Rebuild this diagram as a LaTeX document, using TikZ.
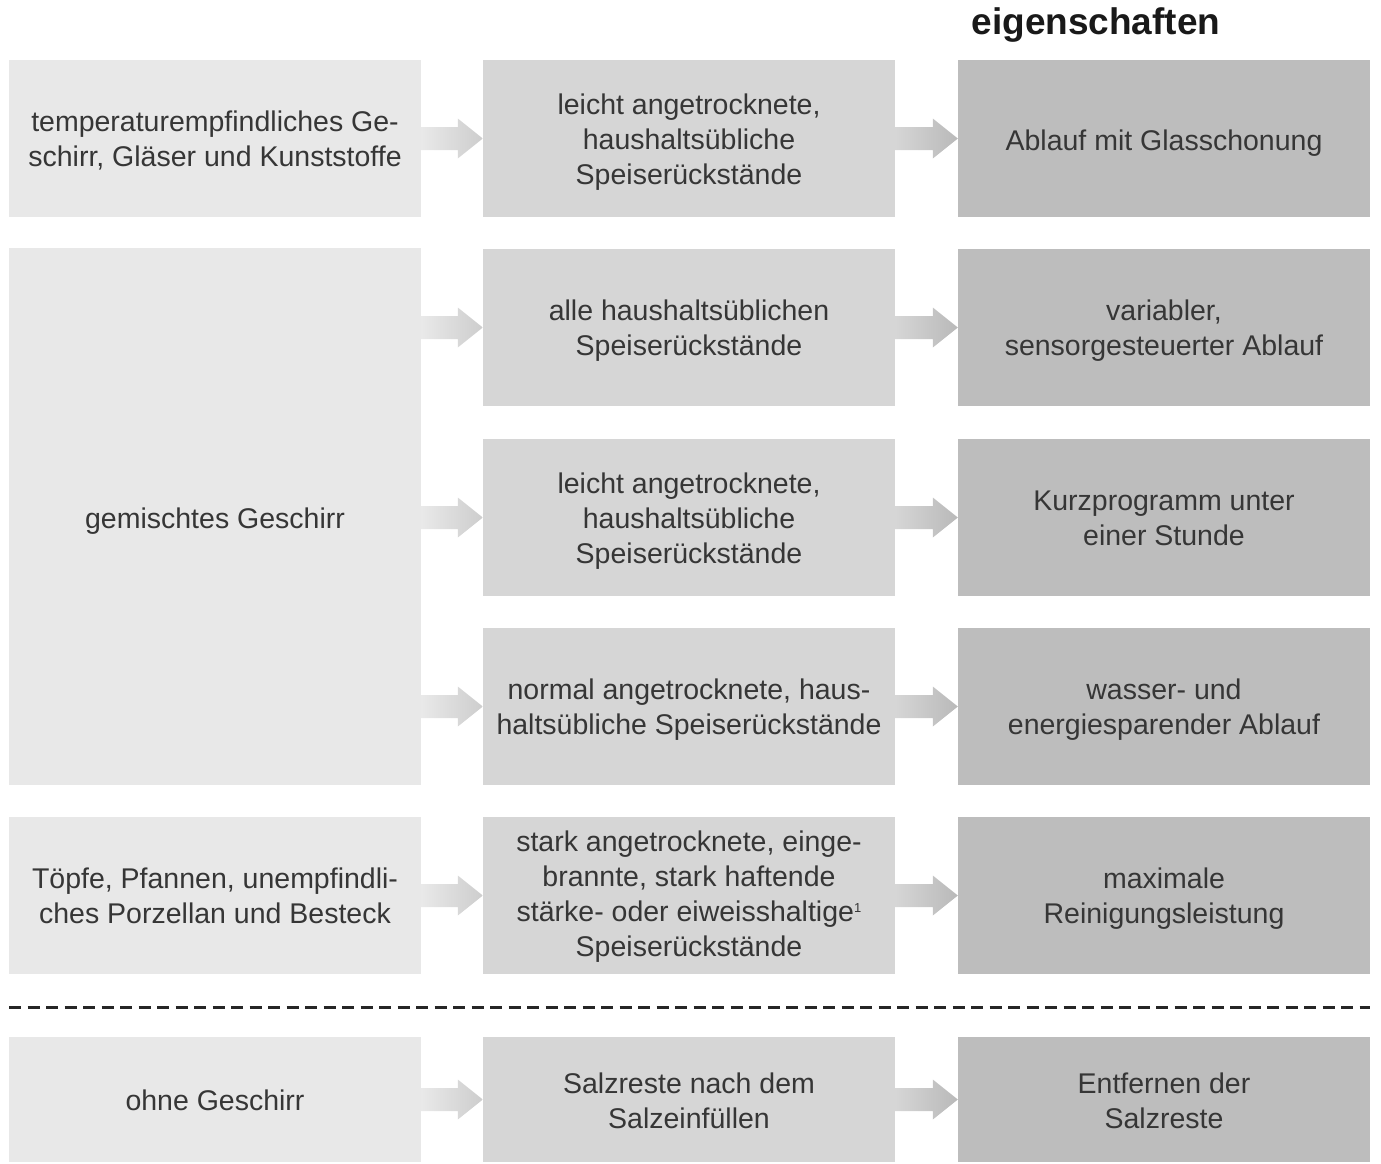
\documentclass[tikz,border=0pt]{standalone}
\usepackage{fontspec}
\setmainfont{Liberation Sans}
\usetikzlibrary{calc}
\definecolor{cA}{HTML}{E8E8E8}
\definecolor{cB}{HTML}{D6D6D6}
\definecolor{cC}{HTML}{BDBDBD}
\definecolor{txt}{HTML}{363636}
\definecolor{aAl}{HTML}{E9E9E9}
\definecolor{aAr}{HTML}{CDCDCD}
\definecolor{aBl}{HTML}{D6D6D6}
\definecolor{aBr}{HTML}{B9B9B9}
\newcommand\fatarrow[4]{%
  \shade[left color=#3, right color=#4]
    ($(#1.east |- #2.west)+(0,-11.5)$) -- ($(#2.west)+(-25,-11.5)$) --
    ($(#2.west)+(-25,-20)$) -- (#2.west) -- ($(#2.west)+(-25,20)$) --
    ($(#2.west)+(-25,11.5)$) -- ($(#1.east |- #2.west)+(0,11.5)$) -- cycle;}
% first-line strut (height) and last-line strut (depth)
\newcommand\fs{\rule{0pt}{30pt}}
\newcommand\ls[1][9]{\rule[-#1pt]{0pt}{#1pt}}
\newcommand\fnmark[1]{\raisebox{9pt}{\fontsize{13}{13}\selectfont #1}}
\begin{document}
\begin{tikzpicture}[x=1pt,y=-1pt,
  box/.style={rectangle, inner sep=0pt, minimum width=412pt, minimum height=157pt,
    align=center, text=txt, font=\fontsize{28.5}{35}\selectfont},
  colA/.style={box, fill=cA},
  colB/.style={box, fill=cB},
  colC/.style={box, fill=cC},
  sep/.style={line width=3pt, dash pattern=on 12pt off 6.5pt, draw=black!85}
]
\useasboundingbox (0,0) rectangle (1381,1164);
\node[anchor=base west, font=\fontsize{37}{40}\selectfont\bfseries, text=black!90] (title) at (968,35) {eigenschaften};
% row 1
\node[colA] (a1) at (215,138.5) {\fs temperaturempfindliches Ge-\\schirr, Gläser und Kunststoffe\ls};
\node[colB] (b1) at (689,138.5) {\fs leicht angetrocknete,\\haushaltsübliche\\Speiserückstände\ls};
\node[colC] (c1) at (1164,138.5) {\fs Ablauf mit Glasschonung\ls[6]};
% rows 2-4
\node[colA, minimum height=537pt] (a2) at (215,516.5) {\fs gemischtes Geschirr\ls[6]};
\node[colB] (b2) at (689,327.5) {\fs alle haushaltsüblichen\\Speiserückstände\ls};
\node[colC] (c2) at (1164,327.5) {\fs variabler,\\sensorgesteuerter Ablauf\ls};
\node[colB] (b3) at (689,517.5) {\fs leicht angetrocknete,\\haushaltsübliche\\Speiserückstände\ls};
\node[colC] (c3) at (1164,517.5) {\fs Kurzprogramm unter\\einer Stunde\ls};
\node[colB] (b4) at (689,706.5) {\fs normal angetrocknete, haus-\\haltsübliche Speiserückstände\ls};
\node[colC] (c4) at (1164,706.5) {\fs wasser- und\\energiesparender Ablauf\ls};
% row 5
\node[colA] (a5) at (215,895.5) {\fs Töpfe, Pfannen, unempfindli-\\ches Porzellan und Besteck\ls[10]};
\node[colB] (b5) at (689,895.5) {\fs stark angetrocknete, einge-\\brannte, stark haftende\\stärke- oder eiweisshaltige\fnmark{1}\\Speiserückstände\ls[13]};
\node[colC] (c5) at (1164,895.5) {\fs maximale\\Reinigungsleistung\ls[10]};
% separator
\coordinate (sl) at (9,1007);
\coordinate (sr) at (1370,1007);
\draw[sep] (sl) -- (sr);
% row 6
\node[colA, minimum height=125pt] (a6) at (215,1099.5) {\fs ohne Geschirr\ls};
\node[colB, minimum height=125pt] (b6) at (689,1099.5) {\fs Salzreste nach dem\\Salzeinfüllen\ls[8]};
\node[colC, minimum height=125pt] (c6) at (1164,1099.5) {\fs Entfernen der\\Salzreste\ls[8]};
% arrows
\fatarrow{a1}{b1}{aAl}{aAr}
\fatarrow{b1}{c1}{aBl}{aBr}
\fatarrow{a2}{b2}{aAl}{aAr}
\fatarrow{b2}{c2}{aBl}{aBr}
\fatarrow{a2}{b3}{aAl}{aAr}
\fatarrow{b3}{c3}{aBl}{aBr}
\fatarrow{a2}{b4}{aAl}{aAr}
\fatarrow{b4}{c4}{aBl}{aBr}
\fatarrow{a5}{b5}{aAl}{aAr}
\fatarrow{b5}{c5}{aBl}{aBr}
\fatarrow{a6}{b6}{aAl}{aAr}
\fatarrow{b6}{c6}{aBl}{aBr}
\end{tikzpicture}
\end{document}
